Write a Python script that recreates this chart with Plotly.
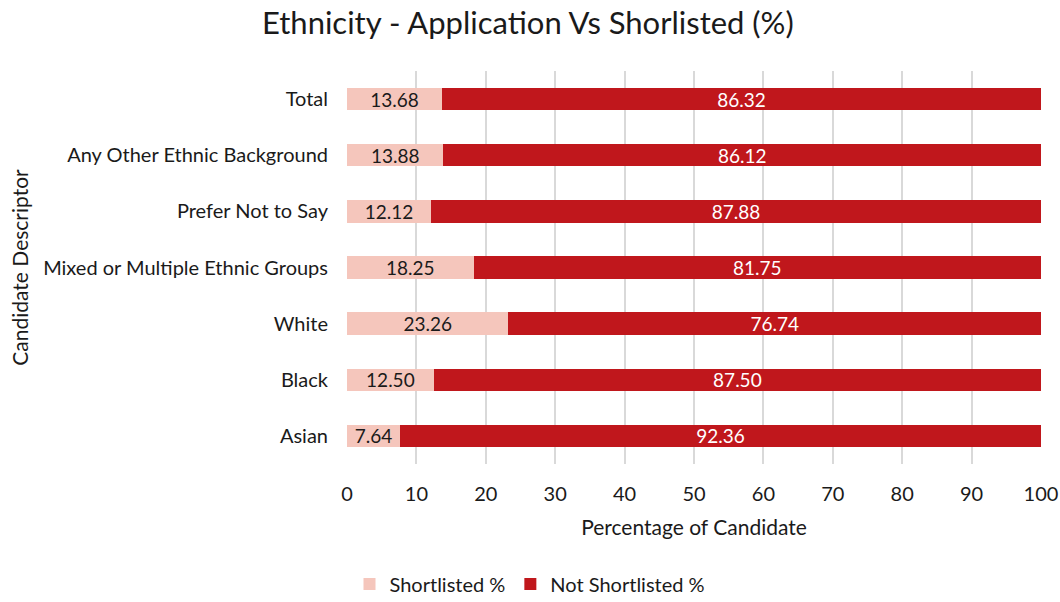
import plotly.graph_objects as go

categories = ["Asian", "Black", "White", "Mixed or Multiple Ethnic Groups",
              "Prefer Not to Say", "Any Other Ethnic Background", "Total"]
shortlisted = [7.64, 12.50, 23.26, 18.25, 12.12, 13.88, 13.68]
not_shortlisted = [92.36, 87.50, 76.74, 81.75, 87.88, 86.12, 86.32]
x_ticks = [0, 10, 20, 30, 40, 50, 60, 70, 80, 90, 100]

FONT = "Lato, 'Open Sans', sans-serif"
LIGHT = "#F5C6BC"
DARK = "#C0171C"
TEXT = "#1a1a1a"

fig = go.Figure()
fig.add_trace(go.Bar(
    y=categories, x=shortlisted, orientation="h", name="Shortlisted %",
    marker=dict(color=LIGHT, line=dict(width=0)),
    texttemplate="%{x:.2f}", textposition="inside", insidetextanchor="middle",
    textfont=dict(color=TEXT, size=19, family=FONT), constraintext="none",
    width=0.4,
))
fig.add_trace(go.Bar(
    y=categories, x=not_shortlisted, orientation="h", name="Not Shortlisted %",
    marker=dict(color=DARK, line=dict(width=0)),
    texttemplate="%{x:.2f}", textposition="inside", insidetextanchor="middle",
    textfont=dict(color="white", size=19, family=FONT), constraintext="none",
    width=0.4,
))

fig.update_layout(
    barmode="stack",
    width=1060, height=602,
    margin=dict(l=347, r=19, t=71, b=138),
    paper_bgcolor="white", plot_bgcolor="white",
    font=dict(family=FONT, color=TEXT),
    title=dict(text="Ethnicity - Application Vs Shorlisted (%)",
               x=0.498, xref="container", xanchor="center",
               y=0.962, yref="container", yanchor="middle",
               font=dict(size=31, color=TEXT, family=FONT)),
    legend=dict(orientation="h", x=0.5, xanchor="center", xref="container",
                y=0.03, yref="container", yanchor="middle",
                font=dict(size=20, family=FONT), traceorder="normal",
                itemwidth=30),
    showlegend=True,
    bargap=0.6,
)
fig.update_xaxes(
    range=[0, 100], tickvals=x_ticks, ticktext=[str(t) for t in x_ticks],
    showgrid=True, gridcolor="#D9D9D9", gridwidth=1.5, zeroline=False,
    showline=False, ticks="", ticklabelstandoff=16,
    tickfont=dict(size=20, family=FONT),
    title=dict(text="Percentage of Candidate", font=dict(size=21, family=FONT), standoff=16),
    automargin=False, fixedrange=True,
)
fig.update_yaxes(
    categoryorder="array", categoryarray=categories,
    range=[-0.5, 6.5], showgrid=False, zeroline=False, showline=False,
    ticks="", ticklabelstandoff=18, tickfont=dict(size=20, family=FONT),
    title=dict(text="Candidate Descriptor", font=dict(size=21, family=FONT), standoff=8),
    automargin=False, fixedrange=True,
)

fig.write_html("out.html")
